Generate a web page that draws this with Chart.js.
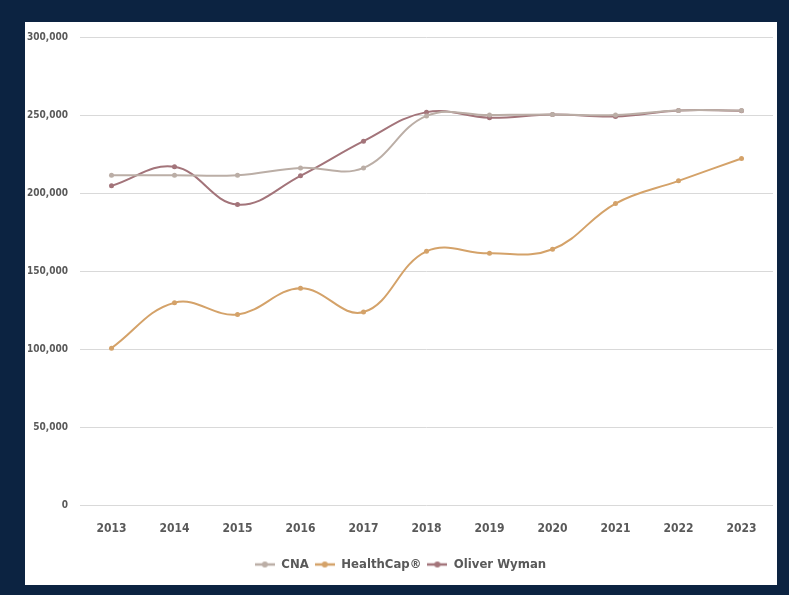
<!DOCTYPE html>
<html>
<head>
<meta charset="utf-8">
<script src="https://cdn.jsdelivr.net/npm/chart.js@4"></script>
<style>
  html, body { margin: 0; padding: 0; background: #0c2341; }
  #panel { position: absolute; left: 25px; top: 22px; width: 752px; height: 563px; background: #fff; }
</style>
</head>
<body>
<div id="panel"><canvas id="canvas" width="752" height="563"></canvas></div>
<script>
const years = ['2013','2014','2015','2016','2017','2018','2019','2020','2021','2022','2023'];
const cna = [211500, 211500, 211500, 216200, 216200, 249500, 250000, 250400, 250000, 253000, 253000];
const healthCap = [100800, 129900, 122400, 139100, 123900, 162800, 161500, 164100, 193400, 207900, 222200];
const oliverWyman = [204700, 216900, 192700, 211100, 233300, 251900, 248300, 250400, 249100, 253000, 252800];
const yTicks = [0, 50000, 100000, 150000, 200000, 250000, 300000];

const font = "'DejaVu Sans Condensed', 'Liberation Sans Narrow', sans-serif";

function legendIcon(color) {
    const c = document.createElement('canvas');
    c.width = 20; c.height = 8;
    const g = c.getContext('2d');
    g.strokeStyle = color;
    g.lineWidth = 2.5;
    g.beginPath(); g.moveTo(0, 4); g.lineTo(20, 4); g.stroke();
    g.fillStyle = color;
    g.beginPath(); g.arc(10, 4, 3, 0, Math.PI * 2); g.fill();
    return c;
}

function series(label, data, color) {
    return {
        label: label,
        data: data,
        borderColor: color,
        backgroundColor: color,
        borderWidth: 2,
        pointRadius: 2.5,
        pointBackgroundColor: color,
        pointBorderWidth: 0,
        tension: 0.4,
    };
}

const ctx = document.getElementById('canvas').getContext('2d');
new Chart(ctx, {
    type: 'line',
    data: {
        labels: years,
        datasets: [
            series('CNA', cna, '#bbaea6'),
            series('HealthCap®', healthCap, '#d4a269'),
            series('Oliver Wyman', oliverWyman, '#a3747a'),
        ]
    },
    options: {
        responsive: false,
        animation: false,
        layout: { padding: { top: 15, right: 1, bottom: 4, left: 0 } },
        plugins: {
            tooltip: { enabled: false },
            legend: {
                position: 'bottom',
                labels: {
                    usePointStyle: true,
                    pointStyleWidth: 20,
                    color: '#595959',
                    padding: 6,
                    font: { family: font, size: 13, weight: 'bold' },
                    generateLabels: chart => chart.data.datasets.map((ds, i) => ({
                        text: ds.label,
                        pointStyle: legendIcon(ds.borderColor),
                        fontColor: '#595959',
                        datasetIndex: i,
                        lineWidth: 0,
                    }))
                }
            }
        },
        scales: {
            x: {
                offset: true,
                grid: { display: false, drawTicks: false },
                border: { display: false },
                ticks: { color: '#595959', padding: 16, font: { family: font, size: 12, weight: 'bold' } }
            },
            y: {
                min: 0,
                max: 300000,
                afterFit: s => { s.width = 55; s.paddingTop = 0; s.paddingBottom = 0; },
                afterBuildTicks: s => { s.ticks = yTicks.map(v => ({ value: v })); },
                grid: { color: '#d9d9d9', lineWidth: 1, drawTicks: false },
                border: { display: false },
                ticks: {
                    color: '#595959',
                    padding: 12,
                    font: { family: font, size: 10, weight: 'bold' },
                    callback: v => v.toLocaleString('en-US')
                }
            }
        }
    }
});
</script>
</body>
</html>
